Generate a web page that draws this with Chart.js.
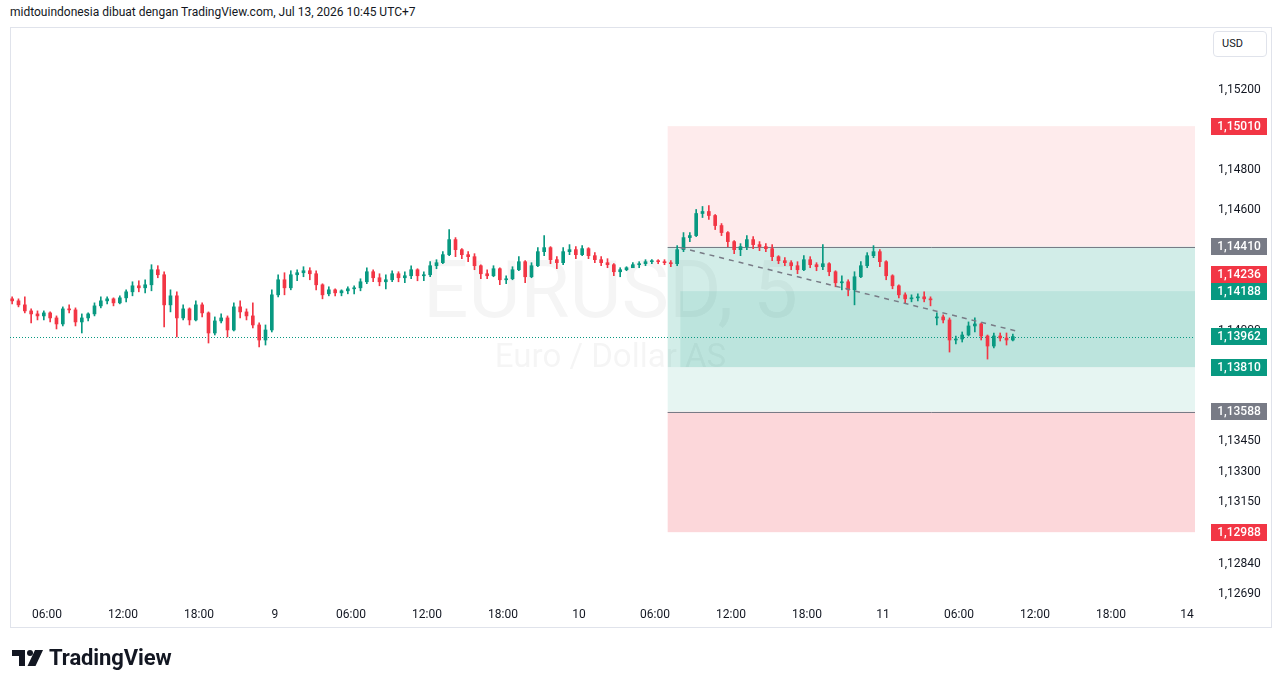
<!DOCTYPE html>
<html>
<head>
<meta charset="utf-8">
<title>EURUSD, 5</title>
<script src="https://cdn.jsdelivr.net/npm/chart.js@4.4.1/dist/chart.umd.min.js"></script>
<style>
  html, body { margin: 0; padding: 0; background: #ffffff; }
  body { width: 1281px; height: 688px; position: relative; overflow: hidden;
         font-family: Roboto, "Liberation Sans", sans-serif; color: #131722; }
  #header { position: absolute; left: 10px; top: 5px; font-size: 12px; line-height: 15px; white-space: nowrap; }
  #frame { position: absolute; left: 10px; top: 27px; width: 1262px; height: 601px;
           border: 1px solid #e0e3eb; box-sizing: border-box; }
  #chart { position: absolute; left: 0; top: 0; }
  #usd { position: absolute; left: 1213px; top: 31px; width: 54px; height: 26px; box-sizing: border-box;
         border: 1px solid #e0e3eb; border-radius: 4px; font-size: 11px; line-height: 24px; padding-left: 8px; background: #fff; }
  #logo { position: absolute; left: 12px; top: 645px; display: flex; align-items: center; gap: 6px;
          font-weight: bold; font-size: 22px; letter-spacing: -0.1px; }
</style>
</head>
<body>
<div id="header">midtouindonesia dibuat dengan TradingView.com, Jul 13, 2026 10:45 UTC+7</div>
<div id="frame"></div>
<canvas id="chart" width="1281" height="688"></canvas>
<div id="usd">USD</div>
<div id="logo">
  <svg width="31" height="16" viewBox="0 0 31 16"><path d="M0 0H13V16H7V6H0Z" fill="#131722"/><circle cx="18" cy="3" r="3" fill="#131722"/><path d="M23 0H31L23.5 16H15.5Z" fill="#131722"/></svg>
  <span>TradingView</span>
</div>
<script>
// ── EURUSD 5m, read off the picture as 30-minute candles ──────────
// time axis: hours after Jul 8 00:00
var firstCandleHour = 3;
var candleHours = 0.5;

var opens = [
  1.14150, 1.14140, 1.14120, 1.14090, 1.14075, 1.14065, 1.14080, 1.14055, 1.14025, 1.14100,
  1.14095, 1.14035, 1.14055, 1.14075, 1.14115, 1.14140, 1.14150, 1.14130, 1.14155, 1.14185,
  1.14215, 1.14205, 1.14220, 1.14295, 1.14270, 1.14120, 1.14165, 1.14055, 1.14100, 1.14045,
  1.14120, 1.14080, 1.13980, 1.14040, 1.14055, 1.13995, 1.14110, 1.14085, 1.14065, 1.14020,
  1.13945, 1.13995, 1.14170, 1.14245, 1.14205, 1.14270, 1.14280, 1.14290, 1.14275, 1.14220,
  1.14175, 1.14195, 1.14180, 1.14190, 1.14200, 1.14205, 1.14235, 1.14285, 1.14255, 1.14235,
  1.14245, 1.14275, 1.14255, 1.14265, 1.14295, 1.14265, 1.14270, 1.14315, 1.14330, 1.14370,
  1.14445, 1.14395, 1.14370, 1.14360, 1.14315, 1.14275, 1.14265, 1.14300, 1.14245, 1.14250,
  1.14295, 1.14335, 1.14260, 1.14315, 1.14385, 1.14405, 1.14345, 1.14330, 1.14385, 1.14395,
  1.14370, 1.14400, 1.14365, 1.14345, 1.14330, 1.14320, 1.14285, 1.14295, 1.14305, 1.14320,
  1.14325, 1.14335, 1.14340, 1.14335, 1.14330, 1.14325, 1.14395, 1.14455, 1.14465, 1.14575,
  1.14585, 1.14565, 1.14515, 1.14480, 1.14435, 1.14395, 1.14410, 1.14445, 1.14420, 1.14410,
  1.14400, 1.14360, 1.14340, 1.14330, 1.14315, 1.14295, 1.14345, 1.14320, 1.14310, 1.14325,
  1.14285, 1.14230, 1.14235, 1.14195, 1.14260, 1.14315, 1.14365, 1.14385, 1.14335, 1.14265,
  1.14215, 1.14170, 1.14150, 1.14155, 1.14160, 1.14150, 1.14055, 1.14060, 1.14045, 1.13945,
  1.13950, 1.13970, 1.14015, 1.14025, 1.13965, 1.13915, 1.13965, 1.13955, 1.13945
];
var highs = [
  1.14160, 1.14150, 1.14160, 1.14100, 1.14090, 1.14090, 1.14085, 1.14065, 1.14110, 1.14120,
  1.14105, 1.14075, 1.14080, 1.14130, 1.14160, 1.14160, 1.14155, 1.14165, 1.14195, 1.14235,
  1.14240, 1.14245, 1.14320, 1.14315, 1.14285, 1.14195, 1.14185, 1.14120, 1.14105, 1.14140,
  1.14130, 1.14085, 1.14060, 1.14075, 1.14065, 1.14130, 1.14140, 1.14100, 1.14130, 1.14030,
  1.14020, 1.14195, 1.14270, 1.14280, 1.14290, 1.14295, 1.14310, 1.14305, 1.14290, 1.14225,
  1.14210, 1.14200, 1.14195, 1.14210, 1.14215, 1.14250, 1.14305, 1.14295, 1.14275, 1.14270,
  1.14290, 1.14285, 1.14285, 1.14315, 1.14300, 1.14285, 1.14335, 1.14345, 1.14385, 1.14495,
  1.14455, 1.14400, 1.14385, 1.14375, 1.14320, 1.14295, 1.14315, 1.14305, 1.14265, 1.14310,
  1.14360, 1.14340, 1.14330, 1.14405, 1.14465, 1.14410, 1.14360, 1.14405, 1.14420, 1.14410,
  1.14415, 1.14405, 1.14380, 1.14360, 1.14350, 1.14325, 1.14305, 1.14310, 1.14330, 1.14335,
  1.14345, 1.14345, 1.14345, 1.14345, 1.14340, 1.14415, 1.14480, 1.14480, 1.14595, 1.14610,
  1.14615, 1.14570, 1.14525, 1.14485, 1.14440, 1.14425, 1.14465, 1.14460, 1.14435, 1.14425,
  1.14420, 1.14365, 1.14355, 1.14340, 1.14335, 1.14365, 1.14360, 1.14330, 1.14420, 1.14330,
  1.14290, 1.14265, 1.14245, 1.14285, 1.14335, 1.14380, 1.14415, 1.14395, 1.14340, 1.14270,
  1.14220, 1.14180, 1.14170, 1.14175, 1.14185, 1.14160, 1.14080, 1.14070, 1.14055, 1.13965,
  1.13985, 1.14035, 1.14055, 1.14030, 1.13970, 1.13980, 1.13980, 1.13980, 1.13975
];
var lows = [
  1.14125, 1.14110, 1.14080, 1.14030, 1.14045, 1.14045, 1.14035, 1.14000, 1.14015, 1.14080,
  1.14015, 1.13980, 1.14040, 1.14065, 1.14105, 1.14125, 1.14115, 1.14125, 1.14135, 1.14165,
  1.14185, 1.14180, 1.14190, 1.14255, 1.14010, 1.14085, 1.13960, 1.14045, 1.14020, 1.14040,
  1.14060, 1.13930, 1.13970, 1.14030, 1.13960, 1.13990, 1.14055, 1.14045, 1.14005, 1.13910,
  1.13920, 1.13985, 1.14160, 1.14170, 1.14195, 1.14240, 1.14260, 1.14245, 1.14195, 1.14150,
  1.14165, 1.14165, 1.14165, 1.14175, 1.14175, 1.14190, 1.14225, 1.14235, 1.14215, 1.14200,
  1.14235, 1.14235, 1.14230, 1.14250, 1.14240, 1.14240, 1.14260, 1.14300, 1.14325, 1.14365,
  1.14360, 1.14350, 1.14335, 1.14295, 1.14250, 1.14250, 1.14260, 1.14220, 1.14225, 1.14245,
  1.14290, 1.14230, 1.14255, 1.14310, 1.14365, 1.14325, 1.14300, 1.14320, 1.14370, 1.14350,
  1.14365, 1.14350, 1.14330, 1.14315, 1.14305, 1.14265, 1.14260, 1.14290, 1.14305, 1.14305,
  1.14315, 1.14325, 1.14325, 1.14320, 1.14310, 1.14315, 1.14385, 1.14435, 1.14460, 1.14555,
  1.14545, 1.14495, 1.14465, 1.14410, 1.14375, 1.14365, 1.14395, 1.14400, 1.14390, 1.14385,
  1.14340, 1.14325, 1.14315, 1.14295, 1.14275, 1.14290, 1.14305, 1.14290, 1.14295, 1.14265,
  1.14210, 1.14195, 1.14165, 1.14120, 1.14255, 1.14305, 1.14355, 1.14310, 1.14245, 1.14200,
  1.14155, 1.14130, 1.14135, 1.14140, 1.14135, 1.14115, 1.14020, 1.14030, 1.13885, 1.13925,
  1.13935, 1.13965, 1.13985, 1.13945, 1.13850, 1.13905, 1.13940, 1.13920, 1.13940
];
var closes = [
  1.14140, 1.14120, 1.14090, 1.14075, 1.14065, 1.14080, 1.14055, 1.14025, 1.14100, 1.14095,
  1.14035, 1.14055, 1.14075, 1.14115, 1.14140, 1.14150, 1.14130, 1.14155, 1.14185, 1.14215,
  1.14205, 1.14220, 1.14295, 1.14270, 1.14120, 1.14165, 1.14055, 1.14100, 1.14045, 1.14120,
  1.14080, 1.13980, 1.14040, 1.14055, 1.13995, 1.14110, 1.14085, 1.14065, 1.14020, 1.13945,
  1.13995, 1.14170, 1.14245, 1.14205, 1.14270, 1.14280, 1.14290, 1.14275, 1.14220, 1.14170,
  1.14195, 1.14180, 1.14190, 1.14200, 1.14205, 1.14235, 1.14285, 1.14255, 1.14235, 1.14245,
  1.14275, 1.14255, 1.14265, 1.14295, 1.14265, 1.14270, 1.14315, 1.14330, 1.14370, 1.14445,
  1.14395, 1.14370, 1.14360, 1.14315, 1.14275, 1.14265, 1.14300, 1.14245, 1.14250, 1.14295,
  1.14335, 1.14260, 1.14315, 1.14385, 1.14405, 1.14345, 1.14330, 1.14385, 1.14395, 1.14370,
  1.14400, 1.14365, 1.14345, 1.14330, 1.14320, 1.14285, 1.14295, 1.14305, 1.14320, 1.14325,
  1.14335, 1.14340, 1.14335, 1.14330, 1.14325, 1.14395, 1.14455, 1.14465, 1.14575, 1.14585,
  1.14565, 1.14515, 1.14480, 1.14435, 1.14395, 1.14410, 1.14445, 1.14420, 1.14410, 1.14400,
  1.14360, 1.14340, 1.14330, 1.14315, 1.14295, 1.14345, 1.14320, 1.14310, 1.14325, 1.14285,
  1.14230, 1.14235, 1.14195, 1.14260, 1.14315, 1.14365, 1.14385, 1.14335, 1.14265, 1.14215,
  1.14170, 1.14150, 1.14155, 1.14160, 1.14150, 1.14145, 1.14060, 1.14045, 1.13945, 1.13950,
  1.13970, 1.14015, 1.14025, 1.13965, 1.13915, 1.13965, 1.13955, 1.13945, 1.13962
];

// axis ticks
var xTickHours = [6, 12, 18, 24, 30, 36, 42, 48, 54, 60, 66, 72, 78, 84, 90, 96];
var xTickLabels = ["06:00", "12:00", "18:00", "9", "06:00", "12:00", "18:00", "10",
                   "06:00", "12:00", "18:00", "11", "06:00", "12:00", "18:00", "14"];
var yTickValues = [1.15200, 1.14800, 1.14600, 1.14000, 1.13450, 1.13300, 1.13150, 1.12840, 1.12690];

// position tool levels + trend line
var zoneStartHour = 55;
var zoneInnerStartHour = 56;
var stopLevel = 1.15010;
var entryLevel = 1.14410;
var targetLevel = 1.13588;
var lowerStopLevel = 1.12988;
var innerTop = 1.14188;
var innerBottom = 1.13810;
var lastPrice = 1.13962;
var trendHours = [56, 82.5];
var trendPrices = [1.14405, 1.13990];

// labels on the price scale
var tagPrices = [1.15010, 1.14410, 1.14236, 1.14188, 1.13962, 1.13810, 1.13588, 1.12988];
var tagColors = ["#f23645", "#787b86", "#f23645", "#089981", "#089981", "#089981", "#787b86", "#f23645"];

var UP = "#089981";
var DOWN = "#f23645";
var FONT = "Roboto, 'Liberation Sans', sans-serif";

function fmt(v) {
  return v.toFixed(5).replace(".", ",");
}

var candleX = closes.map(function(c, i) { return firstCandleHour + (i + 0.5) * candleHours; });
var candleColors = closes.map(function(c, i) { return c >= opens[i] ? UP : DOWN; });

// ── background: watermark ────────────────────────────────────
var watermarkPlugin = {
  id: "watermark",
  beforeDraw: function(chart) {
    var ctx = chart.ctx;
    var a = chart.chartArea;
    var cx = (a.left + a.right) / 2 + 8;
    ctx.save();
    ctx.fillStyle = "rgba(19,23,34,0.045)";
    ctx.textAlign = "center";
    ctx.textBaseline = "alphabetic";
    ctx.font = "80px " + FONT;
    ctx.fillText("EURUSD, 5", cx, 317);
    ctx.font = "33px " + FONT;
    ctx.fillText("Euro / Dollar AS", cx, 367);
    ctx.restore();
  }
};

// ── position tool zones + last price line ────────────────────
var zonesPlugin = {
  id: "zones",
  beforeDatasetsDraw: function(chart) {
    var ctx = chart.ctx;
    var a = chart.chartArea;
    var xs = chart.scales.x;
    var ys = chart.scales.y;
    ctx.save();
    ctx.beginPath();
    ctx.rect(a.left, a.top, a.width, a.height);
    ctx.clip();

    function box(fromHour, p1, p2, color) {
      var x0 = xs.getPixelForValue(fromHour);
      var y1 = ys.getPixelForValue(p1);
      var y2 = ys.getPixelForValue(p2);
      ctx.fillStyle = color;
      ctx.fillRect(x0, Math.min(y1, y2), a.right - x0, Math.abs(y2 - y1));
    }
    function level(fromHour, p, color) {
      var x0 = xs.getPixelForValue(fromHour);
      var y = Math.round(ys.getPixelForValue(p)) + 0.5;
      ctx.strokeStyle = color;
      ctx.lineWidth = 1;
      ctx.beginPath();
      ctx.moveTo(x0, y);
      ctx.lineTo(a.right, y);
      ctx.stroke();
    }

    box(zoneStartHour, stopLevel, entryLevel, "rgba(242,54,69,0.1)");
    box(zoneStartHour, entryLevel, targetLevel, "rgba(8,153,129,0.1)");
    box(zoneStartHour, entryLevel, innerBottom, "rgba(8,153,129,0.09)");
    box(zoneInnerStartHour, innerTop, innerBottom, "rgba(8,153,129,0.11)");
    box(zoneStartHour, targetLevel, lowerStopLevel, "rgba(242,54,69,0.2)");
    level(zoneStartHour, entryLevel, "#787b86");
    level(zoneStartHour, targetLevel, "#787b86");

    // last price dotted line
    var yl = Math.round(ys.getPixelForValue(lastPrice)) + 0.5;
    ctx.strokeStyle = UP;
    ctx.lineWidth = 1;
    ctx.setLineDash([1, 2]);
    ctx.beginPath();
    ctx.moveTo(a.left, yl);
    ctx.lineTo(a.right, yl);
    ctx.stroke();
    ctx.restore();
  }
};

// ── coloured price tags on the right scale ───────────────────
var tagsPlugin = {
  id: "tags",
  afterDraw: function(chart) {
    var ctx = chart.ctx;
    var ys = chart.scales.y;
    var h = 17;
    var tags = tagPrices.map(function(p, i) {
      return { y: ys.getPixelForValue(p), text: fmt(p), color: tagColors[i] };
    });
    tags.sort(function(a, b) { return b.y - a.y; });
    for (var i = 1; i < tags.length; i++) {
      if (tags[i].y + h / 2 > tags[i - 1].y - h / 2) tags[i].y = tags[i - 1].y - h;
    }
    ctx.save();
    ctx.font = "500 12px " + FONT;
    ctx.textAlign = "center";
    ctx.textBaseline = "middle";
    tags.forEach(function(t) {
      var top = Math.round(t.y - h / 2);
      ctx.fillStyle = t.color;
      ctx.fillRect(1211, top, 56, h);
      ctx.fillStyle = "#ffffff";
      ctx.fillText(t.text, 1239, top + h / 2 + 0.5);
    });
    ctx.restore();
  }
};

new Chart(document.getElementById("chart"), {
  type: "bar",
  data: {
    datasets: [
      {
        type: "line",
        data: trendHours.map(function(hr, i) { return { x: hr, y: trendPrices[i] }; }),
        borderColor: "#787b86",
        borderWidth: 1.5,
        borderDash: [5, 5],
        pointRadius: 0,
        order: 0
      },
      {
        label: "body",
        data: closes.map(function(c, i) { return { x: candleX[i], y: [opens[i], c] }; }),
        backgroundColor: candleColors,
        borderWidth: 0,
        barThickness: 3,
        minBarLength: 1,
        grouped: false,
        order: 1
      },
      {
        label: "wick",
        data: highs.map(function(hi, i) { return { x: candleX[i], y: [lows[i], hi] }; }),
        backgroundColor: candleColors,
        borderWidth: 0,
        barThickness: 1,
        grouped: false,
        order: 2
      }
    ]
  },
  options: {
    responsive: false,
    animation: false,
    layout: { padding: { left: 10, top: 27, right: 11, bottom: 61 } },
    plugins: {
      legend: { display: false },
      tooltip: { enabled: false }
    },
    scales: {
      x: {
        type: "linear",
        offset: false,
        min: 3.08,
        max: 96.63,
        grid: { display: false, drawTicks: false },
        border: { display: false },
        afterBuildTicks: function(scale) {
          scale.ticks = xTickHours.map(function(v) { return { value: v }; });
        },
        afterFit: function(scale) { scale.height = 27; },
        ticks: {
          autoSkip: false,
          maxRotation: 0,
          padding: 8,
          color: "#131722",
          font: { family: FONT, size: 12 },
          callback: function(v) { return xTickLabels[xTickHours.indexOf(v)]; }
        }
      },
      y: {
        position: "right",
        min: 1.126502,
        max: 1.155038,
        grid: { display: false, drawTicks: true, tickLength: 23 },
        border: { display: false },
        afterBuildTicks: function(scale) {
          scale.ticks = yTickValues.map(function(v) { return { value: v }; });
        },
        afterFit: function(scale) { scale.width = 75; },
        ticks: {
          padding: 0,
          labelOffset: 2,
          color: "#131722",
          font: { family: FONT, size: 12 },
          callback: function(v) { return fmt(v); }
        }
      }
    }
  },
  plugins: [watermarkPlugin, zonesPlugin, tagsPlugin]
});
</script>
</body>
</html>
